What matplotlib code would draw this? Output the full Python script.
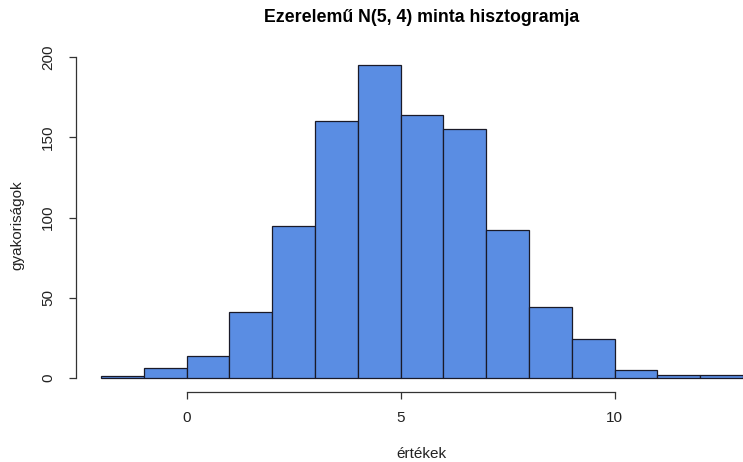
import matplotlib
matplotlib.use("Agg")
import matplotlib.pyplot as plt

plt.rcParams['font.family'] = ['Liberation Sans', 'DejaVu Sans']

# histogram of 1000 draws from N(5, 4), bins of width 1
bin_edges = list(range(-2, 14))
counts = [1, 6, 14, 41, 95, 160, 195, 164, 155, 92, 44, 24, 5, 2, 2]
x_ticks = [0, 5, 10]
y_ticks = [0, 50, 100, 150, 200]

W, H = 743, 462
fig = plt.figure(figsize=(W / 100, H / 100), dpi=100)
# plot region in pixels: x -2..13 -> 101..743, y 0..200 -> 378..57
ax = fig.add_axes([101 / W, (H - 378) / H, (743 - 101) / W, (378 - 57) / H])

lefts = bin_edges[:-1]
widths = [b - a for a, b in zip(bin_edges[:-1], bin_edges[1:])]
ax.bar(lefts, counts, width=widths, align='edge', color='#5a8de3',
       edgecolor='#1a1a28', linewidth=0.9, clip_on=False)

ax.set_xlim(-2, 13)
ax.set_ylim(0, 200)

for s in ('top', 'right'):
    ax.spines[s].set_visible(False)
ax.spines['left'].set_position(('outward', 18))
ax.spines['bottom'].set_position(('outward', 10))
ax.spines['left'].set_bounds(0, 200)
ax.spines['bottom'].set_bounds(0, 10)
for s in ('left', 'bottom'):
    ax.spines[s].set_linewidth(0.9)
    ax.spines[s].set_color('#333333')

ax.set_xticks(x_ticks)
ax.set_yticks(y_ticks)
ax.tick_params(axis='both', direction='out', length=5, width=0.9,
               color='#333333', labelsize=11, labelcolor='#222222')
ax.tick_params(axis='x', pad=9)
ax.tick_params(axis='y', pad=10)
for lbl in ax.get_yticklabels():
    lbl.set_rotation(90)
    lbl.set_va('center')

fig.text(422 / W, 1 - 17 / H, 'Ezerelemű N(5, 4) minta hisztogramja',
         ha='center', va='center', fontsize=12.8, fontweight='bold')
fig.text(421 / W, 1 - 454 / H, 'értékek', ha='center', va='center',
         fontsize=11, color='#222222')
fig.text(17 / W, 1 - 225 / H, 'gyakoriságok', ha='center', va='center',
         rotation=90, fontsize=11, color='#222222')

fig.savefig('out.png', dpi=100)
